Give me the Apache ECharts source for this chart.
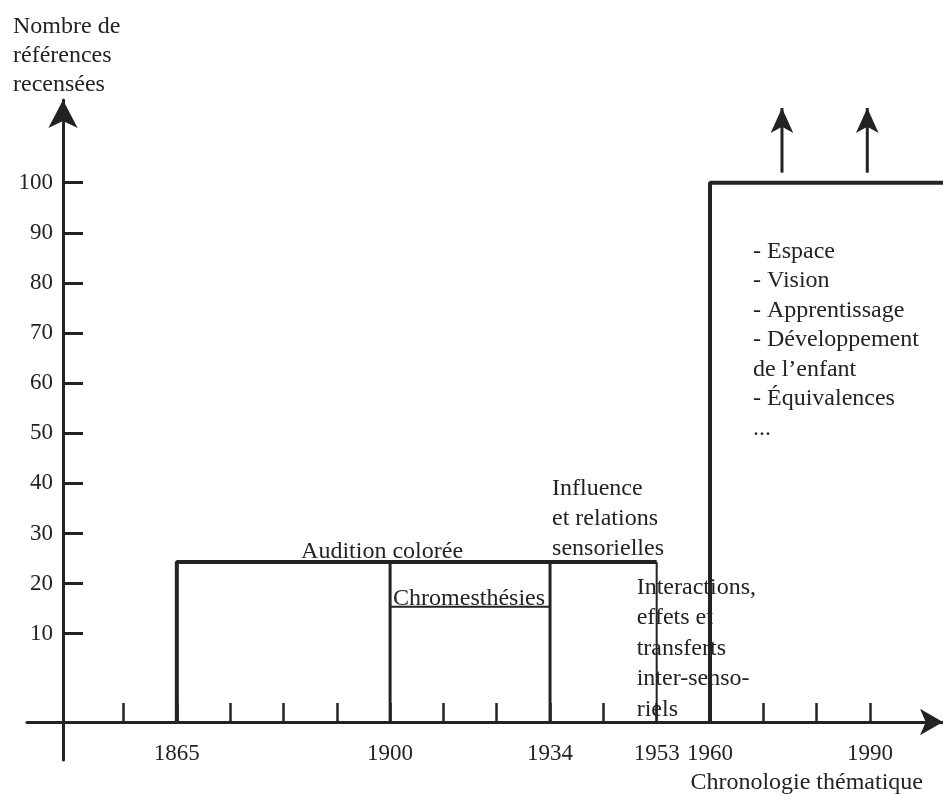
<!DOCTYPE html>
<html><head><meta charset="utf-8">
<script src="https://cdn.jsdelivr.net/npm/echarts@6/dist/echarts.min.js"></script>
<style>html,body{margin:0;padding:0;background:#fff}#c{width:943px;height:794px}</style>
</head><body><div id="c"></div>
<script>
// ---- data ----
const yearLabels = ['1865', '1900', '1934', '1953', '1960', '1990'];
const yearSlots = [2, 6, 9, 11, 12, 15];          // positions on the thematic chronology
const tickSlots = [1, 2, 3, 4, 5, 6, 7, 8, 9, 10, 11, 12, 13, 14, 15];
const yTicks = [10, 20, 30, 40, 50, 60, 70, 80, 90, 100];
const axisCross = -7.6;        // value where the time axis crosses
const plateauLevel = 24.3;     // Audition colorée / Influence
const chromLevel = 15.4;       // Chromesthésies
const modernLevel = 100;       // after 1960
const modernEndSlot = 16.4;
const arrowSlots = [13.35, 14.95];
const arrowFrom = 102, arrowTo = 114.9;
const labelAudition = 'Audition colorée';
const labelChrom = 'Chromesthésies';
const labelInfluence = ['Influence', 'et relations', 'sensorielles'];
const labelInteractions = ['Interactions,', 'effets et', 'transferts', 'inter-senso-', 'riels'];
const modernTopics = ['- Espace', '- Vision', '- Apprentissage', '- Développement', 'de l\u2019enfant', '- Équivalences', '...'];
const yTitle = 'Nombre de\nréférences\nrecensées';
const xTitle = 'Chronologie thématique';

// ---- chart ----
const FONT = "'Liberation Serif', 'Times New Roman', serif";
const INK = '#232323';
const txt = { fontFamily: FONT, fontSize: 24, color: INK, lineHeight: 30 };

function seg(points, width, labelIdx, label, extra) {
  return Object.assign({
    type: 'line', symbol: 'circle', symbolSize: 0, showSymbol: true,
    animation: false, silent: true,
    itemStyle: { color: INK },
    lineStyle: { color: INK, width: width },
    data: points.map((p, i) => i === labelIdx ? { value: p, label: Object.assign({ show: true }, txt, label) } : { value: p })
  }, extra || {});
}

const s1865 = yearSlots[0], s1900 = yearSlots[1], s1934 = yearSlots[2], s1953 = yearSlots[3], s1960 = yearSlots[4];

const series = [
  seg([[s1865, axisCross], [s1865, plateauLevel], [s1953, plateauLevel]], 4),
  seg([[s1900, axisCross], [s1900, plateauLevel]], 3, 1, { formatter: labelAudition, position: 'top', distance: 0, offset: [-8, 5] }),
  seg([[s1900, chromLevel], [s1934, chromLevel]], 2, 0, { formatter: labelChrom, position: 'top', align: 'left', distance: 0, offset: [3, 7] }),
  seg([[s1934, axisCross], [s1934, plateauLevel]], 3, 1, { formatter: labelInfluence.join('\n'), position: 'top', align: 'left', distance: 0, offset: [2, 2] }),
  seg([[s1953, axisCross], [s1953, plateauLevel]], 2, 1, { formatter: labelInteractions.join('\n'), position: 'bottom', align: 'left', distance: 8, offset: [-20, 2], lineHeight: 30.5 }),
  seg([[s1960, axisCross], [s1960, modernLevel], [modernEndSlot, modernLevel]], 4, 1, { formatter: modernTopics.join('\n'), position: 'bottom', align: 'left', distance: 0, offset: [43, 54], lineHeight: 29.5 }, { clip: false })
];
arrowSlots.forEach(a => {
  series.push({
    type: 'line', animation: false, silent: true, clip: false,
    lineStyle: { color: INK, width: 3 }, itemStyle: { color: INK },
    data: [{ value: [a, arrowFrom], symbol: 'none' }, { value: [a, arrowTo], symbol: 'arrow', symbolSize: [17, 25] }]
  });
});

const chart = echarts.init(document.getElementById('c'), null, { renderer: 'canvas' });
chart.setOption({
  backgroundColor: '#fff',
  animation: false,
  title: [
    { text: yTitle, left: 13, top: 12, padding: 0,
      textStyle: { fontFamily: FONT, fontSize: 24, fontWeight: 'normal', color: INK, lineHeight: 29 } },
    { text: xTitle, right: 20, top: 770, padding: 0,
      textStyle: { fontFamily: FONT, fontSize: 24, fontWeight: 'normal', color: INK, lineHeight: 26 } }
  ],
  grid: { left: 27, right: 0, top: 100, bottom: 34, containLabel: false, outerBoundsMode: 'none' },
  xAxis: {
    type: 'value', min: -0.81, max: 16.37, offset: -38,
    splitLine: { show: false },
    axisLine: { onZero: false, lineStyle: { color: INK, width: 3 }, symbol: ['none', 'arrow'], symbolSize: [20, 23] },
    axisTick: { show: true, inside: true, length: 19, lineStyle: { color: INK, width: 2.5 }, customValues: tickSlots },
    axisLabel: {
      show: true, margin: 20, fontFamily: FONT, fontSize: 23, color: INK,
      customValues: yearSlots,
      formatter: v => { const i = yearSlots.indexOf(Math.round(v)); return i >= 0 ? yearLabels[i] : ''; }
    }
  },
  yAxis: {
    type: 'value', min: -15.2, max: 116.5, offset: -36,
    splitLine: { show: false },
    axisLine: { onZero: false, lineStyle: { color: INK, width: 3 }, symbol: ['none', 'arrow'], symbolSize: [22, 28] },
    axisTick: { show: true, inside: true, length: 20, lineStyle: { color: INK, width: 3 }, customValues: yTicks },
    axisLabel: { show: true, margin: 10, fontFamily: FONT, fontSize: 23, color: INK, customValues: yTicks }
  },
  series: series
});
</script></body></html>
